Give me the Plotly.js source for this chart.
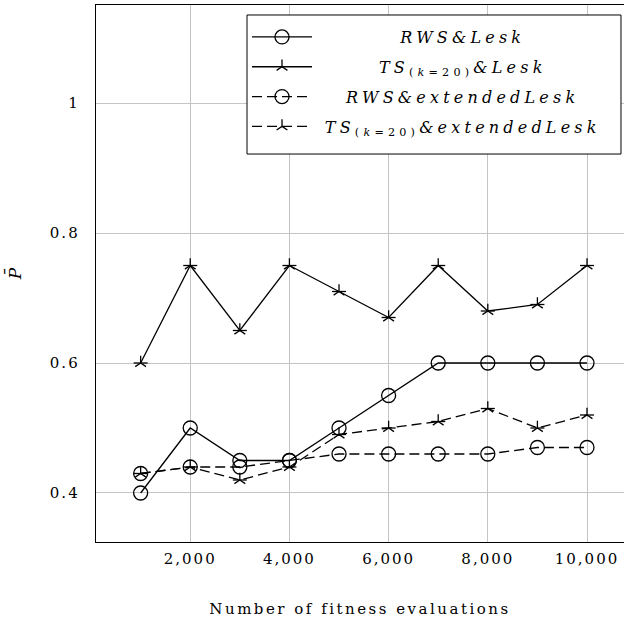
<!DOCTYPE html>
<html>
<head>
<meta charset="utf-8">
<script src="https://cdn.plot.ly/plotly-3.0.1.min.js"></script>
<style>
body{margin:0;padding:0;background:#fff;}
#chart{width:624px;height:623px;}
.legendtext{letter-spacing:4.2px; text-anchor:middle;}
#chart .legendtext{transform:translateX(155px);}
#chart .xtick text, #chart .ytick text{letter-spacing:2px;}
#chart .xtitle{letter-spacing:2.5px;}
</style>
</head>
<body>
<div id="chart"></div>
<script>
// ---- data ----
var evaluations = [1000, 2000, 3000, 4000, 5000, 6000, 7000, 8000, 9000, 10000];
var rwsLesk      = [0.40, 0.50, 0.45, 0.45, 0.50, 0.55, 0.60, 0.60, 0.60, 0.60];
var tsLesk       = [0.60, 0.75, 0.65, 0.75, 0.71, 0.67, 0.75, 0.68, 0.69, 0.75];
var rwsExtLesk   = [0.43, 0.44, 0.44, 0.45, 0.46, 0.46, 0.46, 0.46, 0.47, 0.47];
var tsExtLesk    = [0.43, 0.44, 0.42, 0.44, 0.49, 0.50, 0.51, 0.53, 0.50, 0.52];
var seriesNames = [
  "<i>RWS&amp;Lesk</i>&nbsp;&nbsp;",
  "<i>TS</i><sub>(<i>k</i>=20)</sub><i>&amp;Lesk</i>&nbsp;&nbsp;",
  "<i>RWS&amp;extendedLesk</i>&nbsp;&nbsp;",
  "<i>TS</i><sub>(<i>k</i>=20)</sub><i>&amp;extendedLesk</i>&nbsp;&nbsp;"
];
var xTitle = "Number of fitness evaluations";
var yTitle = "<i>P̄</i>";

var FONT = "DejaVu Serif, serif";
var lineW = 1.3;

function circleTrace(y, name, dash, grp){
  return {
    x: evaluations, y: y, name: name, type: "scatter", mode: "lines+markers",
    legendgroup: grp,
    line: {color: "black", width: lineW, dash: dash},
    marker: {symbol: "circle-open", size: 14, color: "black", line: {color: "black", width: lineW}}
  };
}
function starTrace(y, name, dash, grp){
  return {
    x: evaluations, y: y, name: name, type: "scatter", mode: "lines+markers",
    legendgroup: grp,
    line: {color: "black", width: lineW, dash: dash},
    marker: {symbol: "y-up-open", size: 9, color: "black", line: {color: "black", width: lineW}}
  };
}
function starArms(y, grp){
  return {
    x: evaluations, y: y, type: "scatter", mode: "markers", showlegend: false,
    legendgroup: grp, hoverinfo: "skip",
    marker: {symbol: "line-ew-open", size: 10, color: "black", line: {color: "black", width: lineW}}
  };
}

var dashPat = "10px,5px";
var data = [
  circleTrace(rwsLesk, seriesNames[0], "solid", "a"),
  starTrace(tsLesk, seriesNames[1], "solid", "b"),
  starArms(tsLesk, "b"),
  circleTrace(rwsExtLesk, seriesNames[2], dashPat, "c"),
  starTrace(tsExtLesk, seriesNames[3], dashPat, "d"),
  starArms(tsExtLesk, "d")
];

var layout = {
  width: 624, height: 623,
  margin: {l: 96, r: 0, t: 5, b: 81},
  paper_bgcolor: "white", plot_bgcolor: "white",
  font: {family: FONT, color: "black", size: 15},
  showlegend: true,
  xaxis: {
    range: [100, 10746],
    tickmode: "linear", tick0: 0, dtick: 2000,
    tickformat: ",",
    showgrid: true, gridcolor: "#c4c4c4", gridwidth: 1,
    zeroline: false,
    showline: true, linecolor: "black", linewidth: 1.3, mirror: true,
    ticks: "outside", ticklen: 3, tickcolor: "rgba(0,0,0,0)",
    tickfont: {family: FONT, size: 15},
    title: {text: xTitle, font: {family: FONT, size: 15}, standoff: 36},
    automargin: false
  },
  yaxis: {
    range: [0.3246, 1.1508],
    tickmode: "array", tickvals: [0.4, 0.6, 0.8, 1], ticktext: ["0.4", "0.6", "0.8", "1"],
    showgrid: true, gridcolor: "#c4c4c4", gridwidth: 1,
    zeroline: false,
    showline: true, linecolor: "black", linewidth: 1.3, mirror: false,
    ticks: "outside", ticklen: 12, tickcolor: "rgba(0,0,0,0)",
    tickfont: {family: FONT, size: 15},
    title: {text: yTitle, font: {family: FONT, size: 17}, standoff: 30},
    automargin: false
  },
  shapes: [{
    type: "rect", xref: "paper", yref: "paper", layer: "above",
    x0: 0.286, x1: 0.9943, y0: 0.7225, y1: 0.9814,
    fillcolor: "white", line: {color: "black", width: 1}
  }],
  legend: {
    x: 0.286, y: 0.972, xanchor: "left", yanchor: "top",
    bgcolor: "rgba(0,0,0,0)", borderwidth: 0,
    font: {family: FONT, size: 16, color: "black"},
    itemwidth: 60,
    traceorder: "grouped", tracegroupgap: 6
  }
};

Plotly.newPlot("chart", data, layout, {displayModeBar: false, staticPlot: true});
</script>
</body>
</html>
